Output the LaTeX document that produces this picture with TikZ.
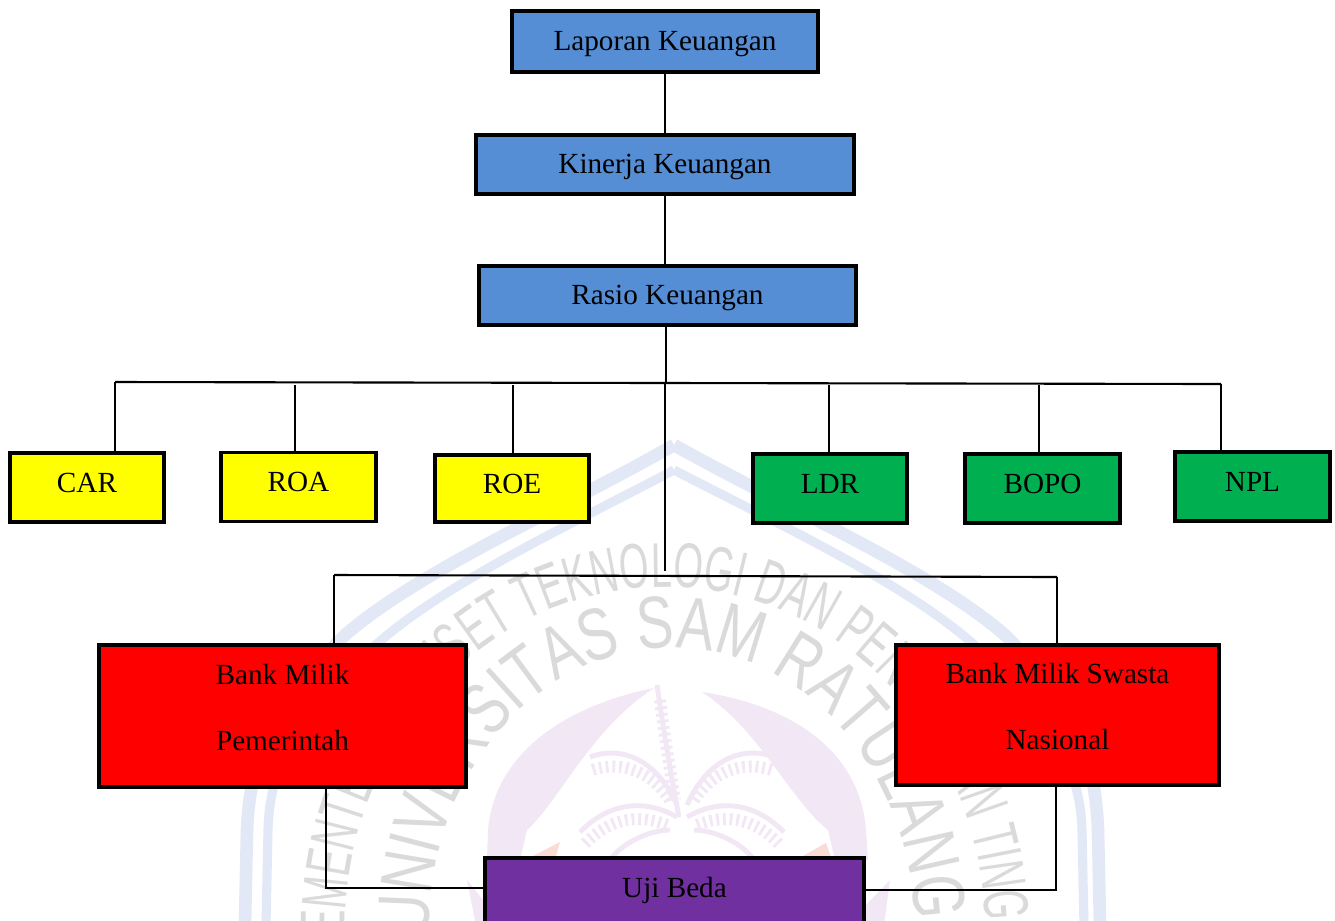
\documentclass[tikz,border=0pt]{standalone}
\usepackage{fontspec}
\setmainfont{Liberation Serif}
\newfontfamily\markfont[FakeStretch=0.75]{Liberation Sans}
\newfontfamily\markfontouter[FakeStretch=0.6]{Liberation Sans}
\usepackage{tikz}
\usetikzlibrary{arrows,positioning,calc,decorations.text}
\definecolor{bluebox}{HTML}{558ED5}
\definecolor{yellowbox}{HTML}{FFFF00}
\definecolor{greenbox}{HTML}{00B050}
\definecolor{redbox}{HTML}{FF0000}
\definecolor{purplebox}{HTML}{7030A0}
\definecolor{markblue}{HTML}{E2E8F6}
\definecolor{marklilac}{HTML}{F1E7F5}
\definecolor{markgray}{HTML}{DADADA}
\definecolor{markpink}{HTML}{FBDCD4}
\tikzstyle{box}=[draw=black,line width=1.1pt,inner sep=0pt,outer sep=0pt,font=\fontsize{8.3}{10}\selectfont]
\tikzstyle{topbox}=[box,fill=bluebox,text height=6.5pt,text depth=1.5pt]
\tikzstyle{ratio}=[box,minimum width=44pt,minimum height=19.6pt,text height=6pt,text depth=3.2pt]
\tikzstyle{bankbox}=[box,fill=redbox,align=center]
\tikzstyle{wire}=[line width=0.6pt]
\tikzstyle{shieldline}=[draw=markblue,line width=3.6pt]
\tikzstyle{frond}=[draw=marklilac,line width=1.4pt]
\tikzstyle{feather}=[draw=marklilac,line width=3.4pt,dash pattern=on 0.8pt off 1.1pt]
\begin{document}
\begin{tikzpicture}[x=0.01cm,y=-0.01cm]
\clip (0,0) rectangle (1335,920);
\fill[white] (0,0) rectangle (1335,920);
\draw[shieldline] (674,445) .. controls (560,510) and (420,570) .. (345,635) .. controls (280,700) and (250,750) .. (247,830) -- (245,925);
\draw[shieldline] (674,445) .. controls (790,510) and (930,570) .. (1005,635) .. controls (1070,700) and (1095,750) .. (1098,830) -- (1100,925);
\draw[shieldline,line width=2.6pt] (674,470) .. controls (570,525) and (440,585) .. (370,650) .. controls (300,720) and (270,760) .. (268,830) -- (266,925);
\draw[shieldline,line width=2.6pt] (674,470) .. controls (780,525) and (910,585) .. (980,650) .. controls (1045,720) and (1080,760) .. (1082,830) -- (1084,925);
\fill[marklilac] (654,688) .. controls (570,705) and (495,750) .. (488,830) -- (487,860) -- (520,860) -- (527,830) .. controls (560,800) and (590,730) .. (654,688) -- cycle;
\fill[marklilac] (702,692) .. controls (790,705) and (860,750) .. (866,830) -- (868,860) -- (835,860) -- (828,830) .. controls (790,800) and (760,730) .. (702,692) -- cycle;
\fill[marklilac] (467,880) -- (483,900) -- (483,925) -- (476,925) -- cycle;
\fill[marklilac] (890,880) -- (866,905) -- (866,925) -- (884,925) -- cycle;
\draw[frond] (657,685) .. controls (665,740) and (672,780) .. (679,817);
\draw[feather] (660,700) .. controls (665,740) and (670,770) .. (675,800);
\foreach \side in {1,-1} {
  \begin{scope}[shift={(682,0)},xscale=\side]
  \draw[frond] (-5,805) .. controls (-25,760) and (-60,745) .. (-92,757);
  \draw[feather] (-12,800) .. controls (-30,772) and (-60,760) .. (-90,770);
  \draw[frond] (-5,817) .. controls (-35,800) and (-70,800) .. (-102,832);
  \draw[feather] (-15,825) .. controls (-40,815) and (-70,815) .. (-98,845);
  \draw[frond] (-12,830) .. controls (-30,830) and (-55,840) .. (-70,857);
  \end{scope}
}
\fill[markpink] (533,856) -- (560,842) -- (556,856) -- cycle;
\fill[markpink] (803,856) -- (826,843) -- (831,857) -- cycle;
\path[decorate,decoration={text along path,text align=center,text color=markgray,text format delimiters={|}{|},
  text={|\fontsize{21}{24}\markfont|UNIVERSITAS SAM RATULANGI}}]
  (672,930) ++(-185:243 and 282) arc[start angle=-185,end angle=5,x radius=243,y radius=282];
\path[decorate,decoration={text along path,text align=center,text color=markgray,text format delimiters={|}{|},
  text={|\fontsize{18}{21}\markfontouter|KEMENTERIAN RISET TEKNOLOGI DAN PENDIDIKAN TINGGI}}]
  (665,930) ++(-195:320 and 343) arc[start angle=-195,end angle=15,x radius=320,y radius=343];

\node [topbox,minimum width=87pt,minimum height=17.4pt] (laporan) at (665,41.5) {Laporan Keuangan};
\node [topbox,minimum width=107.3pt,minimum height=16.8pt] (kinerja) at (665,164.5) {Kinerja Keuangan};
\node [topbox,minimum width=107.3pt,minimum height=16.8pt] (rasio) at (667.5,295.5) {Rasio Keuangan};
\node [ratio,fill=yellowbox] (car) at (87,487.5) {CAR};
\node [ratio,fill=yellowbox] (roa) at (298.5,487) {ROA};
\node [ratio,fill=yellowbox,minimum height=19pt] (roe) at (512,488.5) {ROE};
\node [ratio,fill=greenbox] (ldr) at (830,488.5) {LDR};
\node [ratio,fill=greenbox] (bopo) at (1042.5,488.5) {BOPO};
\node [ratio,fill=greenbox] (npl) at (1252.5,486.5) {NPL};
\node [bankbox,minimum width=104.4pt,minimum height=40.4pt] (pemerintah) at (282.5,716) {Bank Milik\\[8.8pt]Pemerintah\\[-4.9pt]\mbox{}};
\node [bankbox,minimum width=92pt,minimum height=39.8pt] (swasta) at (1057.5,715) {Bank Milik Swasta\\[8.8pt]Nasional\\[-4.9pt]\mbox{}};
\node [topbox,fill=purplebox,minimum width=107.8pt,minimum height=22pt,text height=6.5pt,text depth=5.9pt,anchor=north] (ujibeda) at (674.5,858) {Uji Beda};

\coordinate (barleft) at (115,382);
\coordinate (barright) at (1221,384);
\coordinate (barmid) at (665,383);
\coordinate (stemrasio) at (666,383);
\coordinate (stubroa) at (295,385);
\coordinate (stubroe) at (513,385);
\coordinate (stubldr) at (829,385);
\coordinate (stubbopo) at (1039,385);
\coordinate (stubbank) at (665,571);
\coordinate (lowleft) at (334,575);
\coordinate (lowright) at (1057,577);
\coordinate (bendleft) at (326,888);
\coordinate (bendright) at (1056,890);

\draw [wire] (laporan) -- (kinerja);
\draw [wire] (kinerja) -- (kinerja |- rasio.north);
\draw [wire] (stemrasio |- rasio.south) -- (stemrasio);
\draw [wire] (barleft) -- (barright);
\draw [wire] (barleft) -- (barleft |- car.north);
\draw [wire] (stubroa) -- (stubroa |- roa.north);
\draw [wire] (stubroe) -- (stubroe |- roe.north);
\draw [wire] (stubldr) -- (stubldr |- ldr.north);
\draw [wire] (stubbopo) -- (stubbopo |- bopo.north);
\draw [wire] (barright) -- (barright |- npl.north);
\draw [wire] (barmid) -- (stubbank);
\draw [wire] (lowleft) -- (lowright);
\draw [wire] (lowleft) -- (lowleft |- pemerintah.north);
\draw [wire] (lowright) -- (lowright |- swasta.north);
\draw [wire] (bendleft |- pemerintah.south) -- (bendleft) -- (ujibeda.west |- bendleft);
\draw [wire] (bendright |- swasta.south) -- (bendright) -- (ujibeda.east |- bendright);
\end{tikzpicture}
\end{document}
